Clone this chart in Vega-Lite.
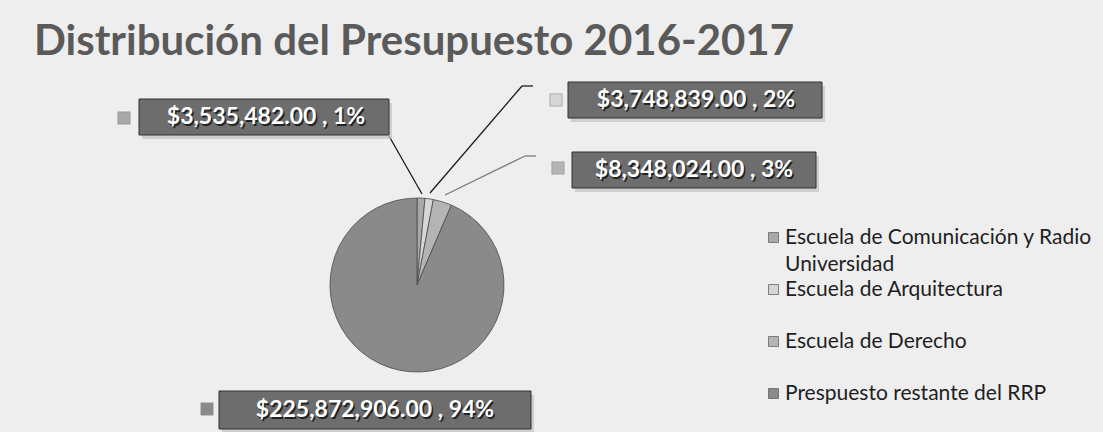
{
  "$schema": "https://vega.github.io/schema/vega-lite/v6.json",
  "width": 834,
  "height": 570,
  "autosize": {"type": "none"},
  "padding": {"left": 0, "top": 0, "right": 269, "bottom": 0},
  "background": "#eeeeee",
  "config": {"view": {"stroke": null}, "font": "Lato"},
  "title": {
    "text": "Distribución del Presupuesto 2016-2017",
    "anchor": "start",
    "frame": "group",
    "orient": "top",
    "offset": -64,
    "dx": 34,
    "font": "Lato",
    "fontSize": 42,
    "fontWeight": "bold",
    "color": "#5a5a5a"
  },
  "data": {
    "values": [
      {"category": "Escuela de Comunicación y Radio Universidad", "value": 3535482},
      {"category": "Escuela de Arquitectura", "value": 3748839},
      {"category": "Escuela de Derecho", "value": 8348024},
      {"category": "Prespuesto restante del RRP", "value": 225872906}
    ]
  },
  "transform": [
    {"joinaggregate": [{"op": "sum", "field": "value", "as": "total"}]},
    {"calculate": "datum.value / datum.total", "as": "pct"},
    {"calculate": "format(datum.value, '$,.2f') + ' , ' + format(datum.pct, '.0%')", "as": "label"}
  ],
  "layer": [
    {
      "mark": {"type": "arc", "radius": 87, "stroke": "#4a4a4a", "strokeWidth": 0.8},
      "encoding": {
        "theta": {"field": "value", "type": "quantitative", "stack": true},
        "order": {"field": "value", "type": "quantitative", "sort": "ascending"},
        "color": {
          "field": "category",
          "type": "nominal",
          "scale": {
            "domain": ["Escuela de Comunicación y Radio Universidad", "Escuela de Arquitectura", "Escuela de Derecho", "Prespuesto restante del RRP"],
            "range": ["#a9a9a9", "#d6d6d6", "#b4b4b4", "#8a8a8a"]
          },
          "legend": {
            "title": null,
            "orient": "none",
            "legendX": 763,
            "legendY": 227,
            "symbolType": "square",
            "symbolSize": 100,
            "symbolStrokeColor": "#666666",
            "symbolStrokeWidth": 0.8,
            "labelFont": "Lato",
            "labelFontSize": 21,
            "labelColor": "#1e1e1e",
            "labelLimit": 400,
            "labelOffset": 1,
            "rowPadding": 3,
            "gridAlign": "all",
            "labelExpr": "datum.label == 'Escuela de Comunicación y Radio Universidad' ? ['Escuela de Comunicación y Radio', 'Universidad'] : datum.label",
            "encode": {"labels": {"update": {"lineHeight": {"value": 27}}}}
          }
        }
      }
    },
    {
      "transform": [{"filter": "datum.category != 'Prespuesto restante del RRP'"}],
      "mark": {"type": "rule", "strokeWidth": 1.3},
      "encoding": {
        "x": {"field": "value", "type": "quantitative", "axis": null,
              "scale": {"domain": [0.014639359, 0.015522805, 0.034566636, 3535482, 3748839, 8348024], "range": [422, 430, 445, 389, 522, 525], "nice": false, "zero": false}},
        "x2": {"field": "pct"},
        "y": {"field": "value", "type": "quantitative", "axis": null,
              "scale": {"domain": [0.014639359, 0.015522805, 0.034566636, 3535482, 3748839, 8348024], "range": [194, 193, 195, 136, 86, 156], "nice": false, "zero": false}},
        "y2": {"field": "pct"},
        "stroke": {"field": "category", "type": "nominal", "legend": null,
                   "scale": {"domain": ["Escuela de Comunicación y Radio Universidad", "Escuela de Arquitectura", "Escuela de Derecho"], "range": ["#1c1c1c", "#1c1c1c", "#7a7a7a"]}}
      }
    },
    {
      "transform": [{"filter": "datum.category == 'Escuela de Arquitectura' || datum.category == 'Escuela de Derecho'"}],
      "mark": {"type": "rule", "strokeWidth": 1.3},
      "encoding": {
        "x": {"field": "value", "type": "quantitative", "axis": null,
              "scale": {"domain": [0.015522805, 0.034566636, 3748839, 8348024], "range": [533, 536, 522, 525], "nice": false, "zero": false}},
        "x2": {"field": "pct"},
        "y": {"field": "value", "type": "quantitative", "axis": null,
              "scale": {"domain": [3748839, 8348024], "range": [86, 156], "nice": false, "zero": false}},
        "stroke": {"field": "category", "type": "nominal", "legend": null,
                   "scale": {"domain": ["Escuela de Arquitectura", "Escuela de Derecho"], "range": ["#1c1c1c", "#7a7a7a"]}}
      }
    },
    {
      "mark": {"type": "point", "filled": true, "opacity": 0.7, "size": 4, "fill": "#c2c2c2", "strokeWidth": 0},
      "encoding": {
        "x": {"field": "value", "type": "quantitative", "axis": null,
              "scale": {"domain": [3535482, 3748839, 8348024, 225872906], "range": [267, 698, 697, 378], "nice": false, "zero": false}},
        "y": {"field": "value", "type": "quantitative", "axis": null,
              "scale": {"domain": [3535482, 3748839, 8348024, 225872906], "range": [121, 104, 174, 414], "nice": false, "zero": false}},
        "shape": {"field": "category", "type": "nominal", "legend": null,
                  "scale": {"domain": ["Escuela de Comunicación y Radio Universidad", "Escuela de Arquitectura", "Escuela de Derecho", "Prespuesto restante del RRP"],
                            "range": ["M-125,-18H125V18H-125Z", "M-127,-18H127V18H-127Z", "M-122,-18H122V18H-122Z", "M-156,-19H156V19H-156Z"]}}
      }
    },
    {
      "mark": {"type": "point", "filled": true, "opacity": 1, "size": 4, "fill": "#6d6d6d", "stroke": "#333333", "strokeWidth": 1},
      "encoding": {
        "x": {"field": "value", "type": "quantitative", "axis": null,
              "scale": {"domain": [3535482, 3748839, 8348024, 225872906], "range": [264, 695, 694, 375], "nice": false, "zero": false}},
        "y": {"field": "value", "type": "quantitative", "axis": null,
              "scale": {"domain": [3535482, 3748839, 8348024, 225872906], "range": [117, 100, 170, 410], "nice": false, "zero": false}},
        "shape": {"field": "category", "type": "nominal", "legend": null,
                  "scale": {"domain": ["Escuela de Comunicación y Radio Universidad", "Escuela de Arquitectura", "Escuela de Derecho", "Prespuesto restante del RRP"],
                            "range": ["M-125,-18H125V18H-125Z", "M-127,-18H127V18H-127Z", "M-122,-18H122V18H-122Z", "M-156,-19H156V19H-156Z"]}}
      }
    },
    {
      "mark": {"type": "text", "font": "Lato", "fontSize": 23, "fontWeight": "bold", "color": "#222222", "baseline": "middle", "align": "center", "dx": 1.5, "dy": 1.5},
      "encoding": {
        "x": {"field": "value", "type": "quantitative", "axis": null,
              "scale": {"domain": [3535482, 3748839, 8348024, 225872906], "range": [266, 696, 694, 375], "nice": false, "zero": false}},
        "y": {"field": "value", "type": "quantitative", "axis": null,
              "scale": {"domain": [3535482, 3748839, 8348024, 225872906], "range": [117, 100, 170, 410], "nice": false, "zero": false}},
        "text": {"field": "label", "type": "nominal"}
      }
    },
    {
      "mark": {"type": "text", "font": "Lato", "fontSize": 23, "fontWeight": "bold", "color": "#ffffff", "baseline": "middle", "align": "center"},
      "encoding": {
        "x": {"field": "value", "type": "quantitative", "axis": null,
              "scale": {"domain": [3535482, 3748839, 8348024, 225872906], "range": [266, 696, 694, 375], "nice": false, "zero": false}},
        "y": {"field": "value", "type": "quantitative", "axis": null,
              "scale": {"domain": [3535482, 3748839, 8348024, 225872906], "range": [117, 100, 170, 410], "nice": false, "zero": false}},
        "text": {"field": "label", "type": "nominal"}
      }
    },
    {
      "mark": {"type": "point", "shape": "square", "filled": true, "opacity": 1, "size": 150, "stroke": "#8a8a8a", "strokeWidth": 0.6},
      "encoding": {
        "x": {"field": "value", "type": "quantitative", "axis": null,
              "scale": {"domain": [3535482, 3748839, 8348024, 225872906], "range": [124, 556, 558, 207], "nice": false, "zero": false}},
        "y": {"field": "value", "type": "quantitative", "axis": null,
              "scale": {"domain": [3535482, 3748839, 8348024, 225872906], "range": [118, 100, 168, 409], "nice": false, "zero": false}},
        "color": {"field": "category", "type": "nominal"}
      }
    }
  ],
  "resolve": {"scale": {"x": "independent", "y": "independent", "shape": "independent", "stroke": "independent"}}
}
